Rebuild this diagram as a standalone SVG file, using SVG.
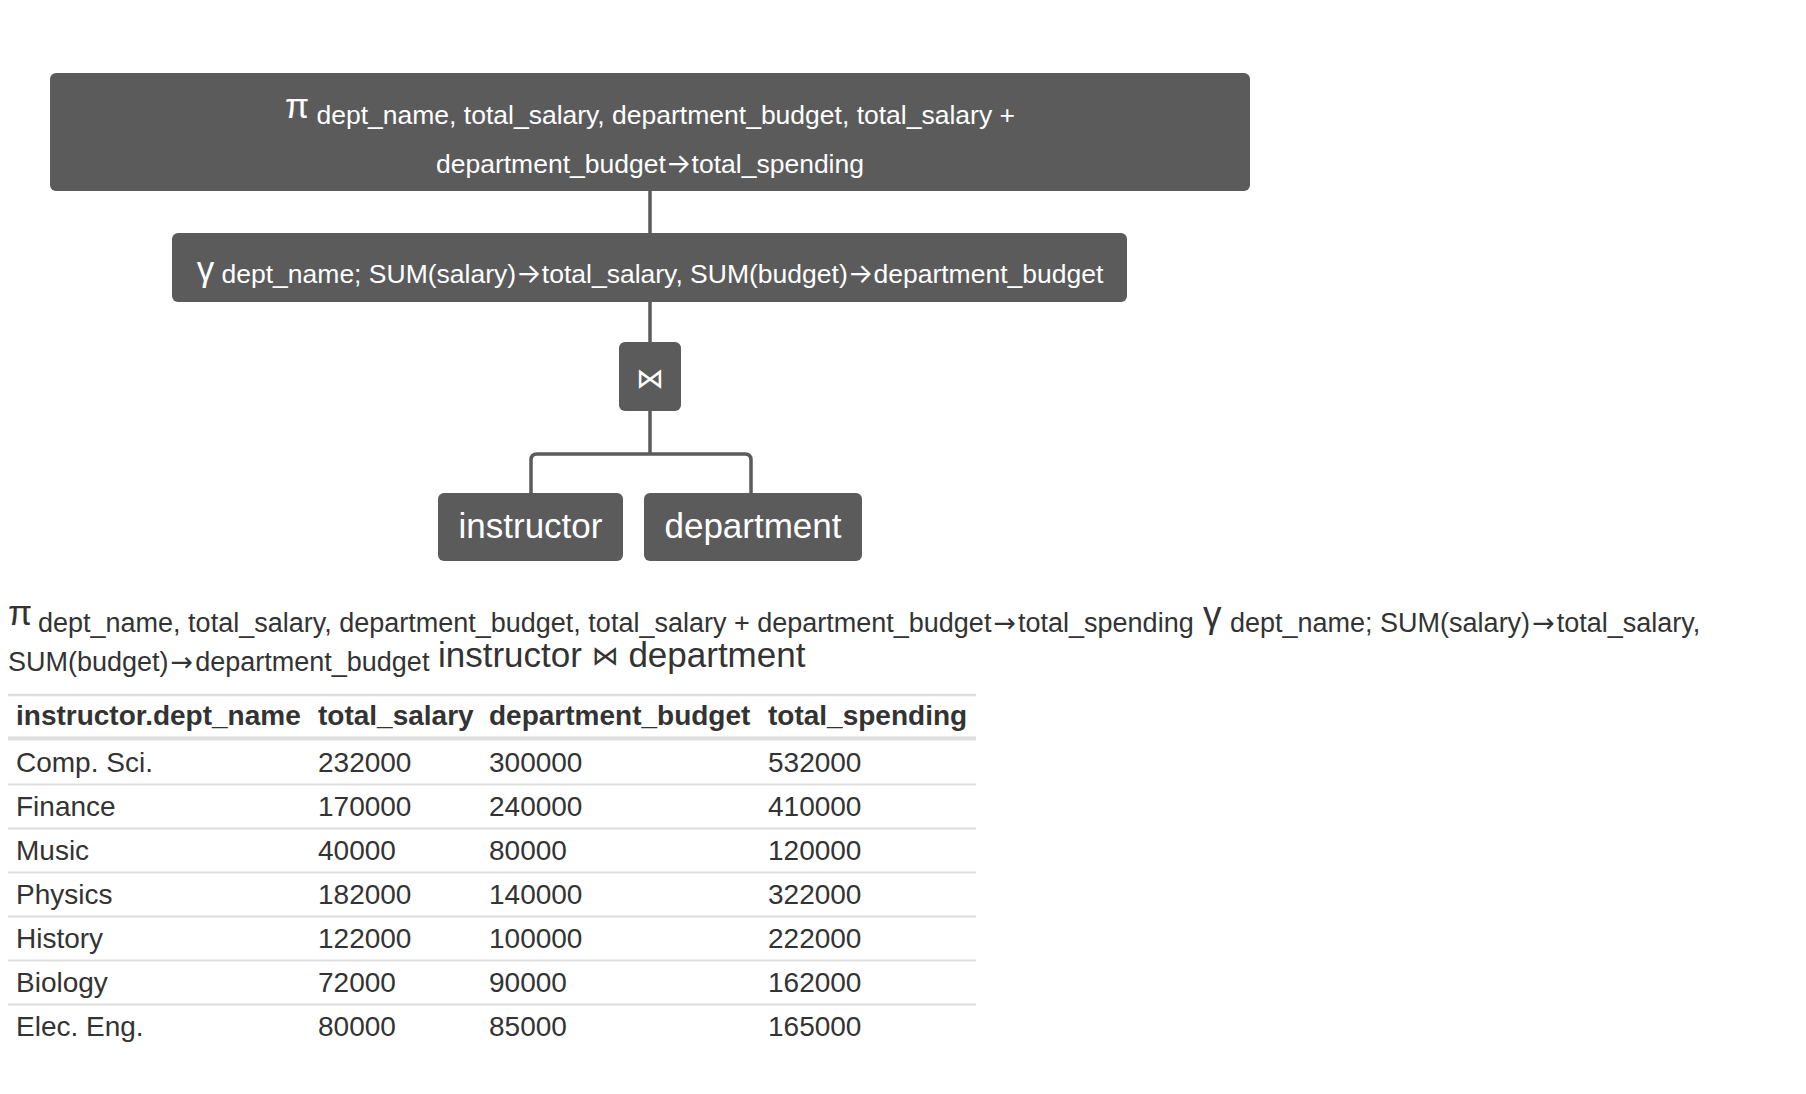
<svg xmlns="http://www.w3.org/2000/svg" width="1806" height="1094" viewBox="0 0 1806 1094">
<style>
  .node { fill: #5b5b5b; }
  .nt { fill: #ffffff; font-family: "Liberation Sans", Arial, "DejaVu Sans", sans-serif; }
  .sub { font-size: 26.5px; }
  .big { font-size: 35px; }
  .arr { font-family: Inter, "DejaVu Sans", sans-serif; font-size: 27px; }
  .farr { font-family: "DejaVu Sans", sans-serif; font-size: 27px; }
  .edge { fill: none; stroke: #5b5b5b; stroke-width: 3.5; }
  .ft { fill: #333333; font-family: "Liberation Sans", Arial, "DejaVu Sans", sans-serif; }
  .td { fill: #333333; font-family: "Liberation Sans", Arial, sans-serif; font-size: 28px; }
  .th { fill: #333333; font-family: "Liberation Sans", Arial, sans-serif; font-size: 28px; font-weight: bold; }
  .rl { stroke: #dddddd; stroke-width: 2; }
</style>
<rect width="1806" height="1094" fill="#ffffff"/>

<g id="connectors">
  <line class="edge" x1="650" y1="191" x2="650" y2="233"/>
  <line class="edge" x1="650" y1="301" x2="650" y2="342"/>
  <path class="edge" d="M650,411 V454 M531,493 V460 Q531,454 537,454 H745 Q751,454 751,460 V493"/>
</g>

<g id="node-projection">
  <rect class="node" x="50" y="73" width="1200" height="118" rx="6"/>
  <text class="nt" x="650" y="124" text-anchor="middle"><tspan class="big" dy="-6">π</tspan><tspan class="sub" dy="6"> dept_name, total_salary, department_budget, total_salary +</tspan></text>
  <text class="nt sub" x="650" y="173" text-anchor="middle">department_budget<tspan class="arr">→</tspan>total_spending</text>
</g>

<g id="node-grouping">
  <rect class="node" x="172" y="233" width="955" height="69" rx="6"/>
  <text class="nt" x="650" y="283" text-anchor="middle"><tspan class="big" font-size="38" dy="-2">γ</tspan><tspan class="sub" dy="2"> dept_name; SUM(salary)<tspan class="arr">→</tspan>total_salary, SUM(budget)<tspan class="arr">→</tspan>department_budget</tspan></text>
</g>

<g id="node-join">
  <rect class="node" x="619" y="342" width="62" height="69" rx="6"/>
  <text class="nt" x="650" y="388" text-anchor="middle" font-size="28">⋈</text>
</g>

<g id="node-instructor">
  <rect class="node" x="438" y="493" width="185" height="68" rx="6"/>
  <text class="nt big" x="530.5" y="538" text-anchor="middle">instructor</text>
</g>

<g id="node-department">
  <rect class="node" x="644" y="493" width="218" height="68" rx="6"/>
  <text class="nt big" x="753" y="538" text-anchor="middle">department</text>
</g>

<g id="formula">
  <text class="ft" x="8" y="625" font-size="35">π</text>
  <text class="ft" x="38" y="632" font-size="27">dept_name, total_salary, department_budget, total_salary + department_budget<tspan class="farr" dx="2">→</tspan><tspan dx="2">total_spending</tspan></text>
  <text class="ft" x="1203" y="627" font-size="37">γ</text>
  <text class="ft" x="1230" y="632" font-size="27">dept_name; SUM(salary)<tspan class="farr" dx="2">→</tspan><tspan dx="2">total_salary,</tspan></text>
  <text class="ft" x="8" y="671" font-size="27">SUM(budget)<tspan class="farr" dx="2">→</tspan><tspan dx="2">department_budget</tspan></text>
  <text class="ft" x="438" y="667" font-size="35">instructor <tspan font-size="27" dy="-2">⋈</tspan><tspan dy="2"> department</tspan></text>
</g>

<g id="table">
  <line x1="8" y1="695" x2="976" y2="695" stroke="#dddddd" stroke-width="2.5"/>
  <line x1="8" y1="738.5" x2="976" y2="738.5" stroke="#dddddd" stroke-width="4"/>
  <line class="rl" x1="8" y1="784.5" x2="976" y2="784.5"/>
  <line class="rl" x1="8" y1="828.5" x2="976" y2="828.5"/>
  <line class="rl" x1="8" y1="872.5" x2="976" y2="872.5"/>
  <line class="rl" x1="8" y1="916.5" x2="976" y2="916.5"/>
  <line class="rl" x1="8" y1="960.5" x2="976" y2="960.5"/>
  <line class="rl" x1="8" y1="1004.5" x2="976" y2="1004.5"/>

  <text class="th" x="16" y="725">instructor.dept_name</text>
  <text class="th" x="318" y="725">total_salary</text>
  <text class="th" x="489" y="725">department_budget</text>
  <text class="th" x="768" y="725">total_spending</text>

  <text class="td" x="16" y="772">Comp. Sci.</text>
  <text class="td" x="318" y="772">232000</text>
  <text class="td" x="489" y="772">300000</text>
  <text class="td" x="768" y="772">532000</text>

  <text class="td" x="16" y="816">Finance</text>
  <text class="td" x="318" y="816">170000</text>
  <text class="td" x="489" y="816">240000</text>
  <text class="td" x="768" y="816">410000</text>

  <text class="td" x="16" y="860">Music</text>
  <text class="td" x="318" y="860">40000</text>
  <text class="td" x="489" y="860">80000</text>
  <text class="td" x="768" y="860">120000</text>

  <text class="td" x="16" y="904">Physics</text>
  <text class="td" x="318" y="904">182000</text>
  <text class="td" x="489" y="904">140000</text>
  <text class="td" x="768" y="904">322000</text>

  <text class="td" x="16" y="948">History</text>
  <text class="td" x="318" y="948">122000</text>
  <text class="td" x="489" y="948">100000</text>
  <text class="td" x="768" y="948">222000</text>

  <text class="td" x="16" y="992">Biology</text>
  <text class="td" x="318" y="992">72000</text>
  <text class="td" x="489" y="992">90000</text>
  <text class="td" x="768" y="992">162000</text>

  <text class="td" x="16" y="1036">Elec. Eng.</text>
  <text class="td" x="318" y="1036">80000</text>
  <text class="td" x="489" y="1036">85000</text>
  <text class="td" x="768" y="1036">165000</text>
</g>
</svg>
